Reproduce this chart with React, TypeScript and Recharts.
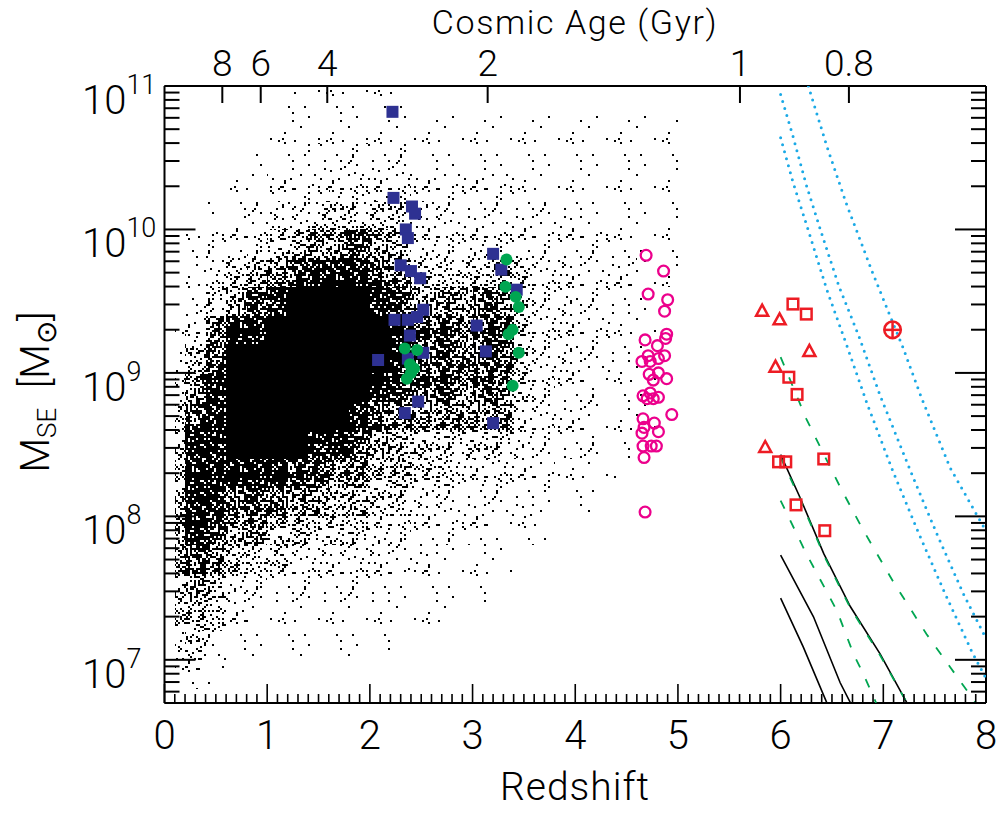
import React from 'react';
import { ComposedChart, Scatter, XAxis, YAxis, ReferenceArea } from 'recharts';

// ---------------- data (z = redshift, second value = log10 of M_SE in solar masses) ----------------
const blueSquares: [number, number][] = [
  [2.22, 10.82], [2.23, 10.22], [2.41, 10.16], [2.44, 10.11], [2.35, 10.0], [2.37, 9.94],
  [2.3, 9.75], [2.4, 9.71], [2.49, 9.66], [2.52, 9.44], [2.24, 9.37], [2.37, 9.37],
  [2.46, 9.39], [2.39, 9.26], [2.52, 9.14], [2.08, 9.09], [2.37, 9.1], [2.47, 8.8],
  [2.34, 8.72], [3.2, 9.83], [3.28, 9.72], [3.43, 9.58], [3.04, 9.33], [3.13, 9.15], [3.2, 8.65],
];
const greenCircles: [number, number][] = [
  [3.33, 9.79], [3.32, 9.6], [3.42, 9.53], [3.45, 9.46], [3.39, 9.3], [3.35, 9.27], [3.45, 9.14],
  [3.39, 8.91], [2.34, 9.17], [2.46, 9.16], [2.39, 9.06], [2.43, 9.03], [2.4, 9.0], [2.36, 8.96],
];
const magentaCircles: [number, number][] = [
  [4.69, 9.82], [4.86, 9.71], [4.71, 9.55], [4.9, 9.51], [4.87, 9.43], [4.89, 9.27], [4.88, 9.24],
  [4.68, 9.23], [4.8, 9.19], [4.87, 9.12], [4.71, 9.12], [4.65, 9.08], [4.81, 9.1], [4.73, 9.08],
  [4.72, 8.99], [4.81, 9.0], [4.89, 8.96], [4.76, 8.95], [4.66, 8.84], [4.73, 8.86], [4.81, 8.83],
  [4.7, 8.82], [4.76, 8.82], [4.94, 8.71], [4.66, 8.68], [4.77, 8.65], [4.67, 8.62], [4.81, 8.59],
  [4.65, 8.58], [4.66, 8.49], [4.79, 8.49], [4.74, 8.49], [4.67, 8.41], [4.68, 8.03],
];
const redTriangles: [number, number][] = [
  [5.82, 9.43], [5.99, 9.37], [6.28, 9.15], [5.95, 9.04], [5.85, 8.48],
];
const redSquares: [number, number][] = [
  [6.12, 9.48], [6.25, 9.41], [6.08, 8.97], [6.16, 8.85], [5.98, 8.38], [6.05, 8.38],
  [6.42, 8.4], [6.15, 8.08], [6.43, 7.9],
];
const redCirclePlus: [number, number][] = [[7.09, 9.3]];

const cyanLineA: [number, number][] = [
  [6.0, 10.64], [6.12, 10.33], [6.28, 9.97], [6.45, 9.58], [6.64, 9.2], [6.84, 8.79],
  [7.09, 8.32], [7.34, 7.89], [7.59, 7.48], [7.86, 7.06], [8.0, 6.87],
];
const cyanLineB: [number, number][] = [
  [6.0, 10.94], [6.12, 10.65], [6.25, 10.31], [6.4, 9.97], [6.57, 9.6], [6.76, 9.26],
  [6.97, 8.84], [7.28, 8.29], [7.52, 7.88], [7.78, 7.46], [8.0, 7.15],
];
const cyanLineC: [number, number][] = [
  [6.27, 11.0], [6.45, 10.58], [6.64, 10.18], [6.9, 9.69], [7.19, 9.18], [7.37, 8.83],
  [7.65, 8.34], [7.99, 7.91],
];
const greenLine1: [number, number][] = [
  [6.0, 9.11], [6.25, 8.68], [6.45, 8.39], [6.59, 8.19], [6.8, 7.91], [7.1, 7.54],
  [7.42, 7.18], [7.65, 6.95], [7.88, 6.72], [7.9, 6.7],
];
const greenLine2: [number, number][] = [
  [6.0, 8.11], [6.25, 7.74], [6.55, 7.34], [6.71, 7.04], [6.8, 6.91], [6.93, 6.7],
];
const greenLine3: [number, number][] = [
  [6.0, 8.41], [6.19, 8.12], [6.42, 7.73], [6.68, 7.36], [6.97, 7.03], [7.23, 6.7],
];
const blackLine1: [number, number][] = [
  [6.0, 8.43], [6.19, 8.13], [6.42, 7.74], [6.68, 7.37], [6.97, 7.04], [7.23, 6.7],
];
const blackLine2: [number, number][] = [[6.0, 7.73], [6.32, 7.3], [6.58, 6.84], [6.68, 6.7]];
const blackLine3: [number, number][] = [[6.0, 7.43], [6.22, 7.09], [6.45, 6.7]];

// density of the simulated population (0 = empty ... 9 = solid), rows from log M 11.0 downward
const cloudZEdges = [
  0.1, 0.2, 0.4, 0.6, 0.8, 1.0, 1.2, 1.4, 1.6, 1.8, 2.0, 2.2, 2.4, 2.6, 2.8, 3.0, 3.2, 3.4,
  3.6, 3.8, 4.0, 4.2, 4.4, 4.6, 4.8, 5.0,
];
const cloudLogMEdges = [
  11.0, 10.8, 10.6, 10.4, 10.2, 10.0, 9.8, 9.6, 9.4, 9.2, 9.0, 8.8, 8.6, 8.4, 8.2, 8.0, 7.8,
  7.6, 7.4, 7.2, 7.0, 6.8,
];
const cloudRows = [
  '0000001111110000000000000',
  '0000011111111111111111111',
  '0000111222221111111111111',
  '0001122233332222211111111',
  '0011233444443322222211111',
  '0122345667653333322222111',
  '0134567888764444543322211',
  '1246789999876667643322110',
  '1368899999987767743322110',
  '2579999999987777743322110',
  '3689999999877767643221110',
  '4789999998766666633221110',
  '5889999887655444432221100',
  '5888887766554433322111000',
  '6887776655443322221110000',
  '6876655444332222111000000',
  '6765443333322111100000000',
  '5653322222211111000000000',
  '5542111111111100000000000',
  '3421111111100000000000000',
  '1210000000000000000000000',
];

const xMajorTicks = [0, 1, 2, 3, 4, 5, 6, 7, 8];
const yMajorExponents = [7, 8, 9, 10, 11];
const ageTickZ = [0.563, 0.937, 1.585, 3.147, 5.604, 6.665];
const ageTickLabels = ['8', '6', '4', '2', '1', '0.8'];

// ---------------- helpers ----------------
const toPts = (arr: [number, number][]) => arr.map(([z, l]) => ({ x: z, y: Math.pow(10, l) }));

const xAllTicks: number[] = [];
for (let k = 0; k <= 80; k++) xAllTicks.push(k / 10);
const yAllTicks: number[] = [];
for (let e = 6; e <= 10; e++) {
  for (let m = 1; m <= 9; m++) {
    const v = m * Math.pow(10, e);
    if (v >= 5e6 && v <= 1e11) yAllTicks.push(v);
  }
}
yAllTicks.push(1e11);

type Cell = { x1: number; x2: number; y1: number; y2: number; lvl: number };
const cloudCells: Cell[] = [];
cloudRows.forEach((row, i) => {
  for (let j = 0; j < row.length; j++) {
    const lvl = Number(row[j]);
    if (!lvl) continue;
    cloudCells.push({
      x1: cloudZEdges[j],
      x2: cloudZEdges[j + 1],
      y1: Math.pow(10, cloudLogMEdges[i + 1]),
      y2: Math.pow(10, cloudLogMEdges[i]),
      lvl,
    });
  }
});

// stipple texture (styling only)
const STIPPLE_FRAC = [0, 0.01, 0.05, 0.1, 0.18, 0.28, 0.42, 0.6, 0.82, 1];
const TILE = 48;
const DOT = 2;
function tex(i: number, j: number) {
  let h = (Math.imul(i + 1, 374761393) + Math.imul(j + 7, 668265263)) | 0;
  h = Math.imul(h ^ (h >>> 13), 1274126177);
  h ^= h >>> 16;
  return (h >>> 0) / 4294967296;
}
function dotsPath(f: number) {
  let d = '';
  const n = TILE / DOT;
  for (let i = 0; i < n; i++) {
    for (let j = 0; j < n; j++) {
      if (tex(i, j) < f) d += `M${i * DOT} ${j * DOT}h${DOT}v${DOT}h-${DOT}z`;
    }
  }
  return d;
}

const FONT = "Roboto, 'Liberation Sans', 'DejaVu Sans', sans-serif";
const FW = 300;
const FS = 40;

const Patterns = () => (
  <svg width={0} height={0} style={{ position: 'absolute' }}>
    <defs>
      {STIPPLE_FRAC.map((f, lvl) =>
        lvl === 0 ? null : (
          <pattern key={lvl} id={`stip${lvl}`} patternUnits="userSpaceOnUse" width={TILE} height={TILE}>
            {lvl === 9 ? <rect width={TILE} height={TILE} fill="#000" /> : <path d={dotsPath(f)} fill="#000" />}
          </pattern>
        )
      )}
    </defs>
  </svg>
);

// ---------------- ticks ----------------
const BottomTick = (p: any) => {
  const { x, y, payload } = p;
  const v = payload.value as number;
  const major = xMajorTicks.some((t) => Math.abs(t - v) < 1e-6);
  return (
    <g>
      <line x1={x} x2={x} y1={y} y2={y - (major ? 19 : 9)} stroke="#000" strokeWidth={1.6} />
      {major && (
        <text x={x} y={y + 46} textAnchor="middle" fontSize={FS} fontFamily={FONT} fontWeight={FW} fill="#000">
          {Math.round(v)}
        </text>
      )}
    </g>
  );
};
const TopTick = (p: any) => {
  const { x, y, payload } = p;
  const idx = ageTickZ.findIndex((t) => Math.abs(t - payload.value) < 1e-6);
  return (
    <g>
      <line x1={x} x2={x} y1={y} y2={y + 17} stroke="#000" strokeWidth={2} />
      <text x={x} y={y - 10} textAnchor="middle" fontSize={37} fontFamily={FONT} fontWeight={FW} fill="#000">
        {ageTickLabels[idx]}
      </text>
    </g>
  );
};
const isMajorY = (v: number) => yMajorExponents.some((e) => Math.abs(Math.log10(v) - e) < 1e-9);
const LeftTick = (p: any) => {
  const { x, y, payload } = p;
  const v = payload.value as number;
  const major = isMajorY(v);
  return (
    <g>
      <line x1={x} x2={x + (major ? 31 : 15)} y1={y} y2={y} stroke="#000" strokeWidth={2} />
      {major && (
        <text x={x - 82.5} y={y + 28} fontSize={FS} fontFamily={FONT} fontWeight={FW} fill="#000">
          <tspan>10</tspan>
          <tspan dy={-20} fontSize={27}>
            {Math.round(Math.log10(v))}
          </tspan>
        </text>
      )}
    </g>
  );
};
const RightTick = (p: any) => {
  const { x, y, payload } = p;
  const major = isMajorY(payload.value);
  return <line x1={x} x2={x - (major ? 31 : 15)} y1={y} y2={y} stroke="#000" strokeWidth={2} />;
};

// ---------------- marker shapes ----------------
const NAVY = '#2e3192';
const GREEN = '#00a651';
const MAGENTA = '#ec008c';
const RED = '#ed1c24';
const CYAN = '#1aa9e6';

const FilledSquare = (p: any) => <rect x={p.cx - 6} y={p.cy - 6} width={12} height={12} fill={NAVY} />;
const FilledCircle = (p: any) => <circle cx={p.cx} cy={p.cy} r={6} fill={GREEN} />;
const OpenCircle = (p: any) => (
  <circle cx={p.cx} cy={p.cy} r={5.4} fill="none" stroke={MAGENTA} strokeWidth={2.3} />
);
const OpenSquare = (p: any) => (
  <rect x={p.cx - 5.3} y={p.cy - 5.3} width={10.6} height={10.6} fill="none" stroke={RED} strokeWidth={2.5} />
);
const OpenTriangle = (p: any) => (
  <path
    d={`M${p.cx},${p.cy - 6.5} L${p.cx + 6},${p.cy + 4.5} L${p.cx - 6},${p.cy + 4.5} Z`}
    fill="none"
    stroke={RED}
    strokeWidth={2.5}
    strokeLinejoin="miter"
  />
);
const CirclePlus = (p: any) => (
  <g fill="none" stroke={RED} strokeWidth={2.5}>
    <circle cx={p.cx} cy={p.cy} r={8.3} />
    <line x1={p.cx - 8.3} x2={p.cx + 8.3} y1={p.cy} y2={p.cy} />
    <line x1={p.cx} x2={p.cx} y1={p.cy - 8.3} y2={p.cy + 8.3} />
  </g>
);
const NoShape = () => <g />;

const lineSeries = [
  { key: 'b3', data: blackLine3, style: { stroke: '#000', strokeWidth: 1.6 } },
  { key: 'b2', data: blackLine2, style: { stroke: '#000', strokeWidth: 1.6 } },
  { key: 'b1', data: blackLine1, style: { stroke: '#000', strokeWidth: 1.6 } },
  { key: 'g3', data: greenLine3, style: { stroke: GREEN, strokeWidth: 1.8, strokeDasharray: '9 13' } },
  { key: 'g2', data: greenLine2, style: { stroke: GREEN, strokeWidth: 1.8, strokeDasharray: '9 13' } },
  { key: 'g1', data: greenLine1, style: { stroke: GREEN, strokeWidth: 1.8, strokeDasharray: '9 13' } },
  { key: 'cA', data: cyanLineA, style: { stroke: CYAN, strokeWidth: 3, strokeDasharray: '0 7.3', strokeLinecap: 'round' } },
  { key: 'cB', data: cyanLineB, style: { stroke: CYAN, strokeWidth: 3, strokeDasharray: '0 7.3', strokeLinecap: 'round' } },
  { key: 'cC', data: cyanLineC, style: { stroke: CYAN, strokeWidth: 3, strokeDasharray: '0 7.3', strokeLinecap: 'round' } },
];

export default function App() {
  const textStyle = { fontFamily: FONT, fontWeight: FW, fill: '#000' } as any;
  return (
    <div style={{ position: 'absolute', left: 0, top: 0, width: 997, height: 814, background: '#fff' }}>
      <Patterns />
      <ComposedChart width={997} height={814} margin={{ top: 0, right: 0, bottom: 0, left: 0 }}>
        <XAxis
          dataKey="x"
          type="number"
          domain={[0, 8]}
          ticks={xAllTicks}
          interval={0}
          allowDataOverflow
          tickSize={0}
          tickMargin={0}
          height={111}
          axisLine={{ stroke: '#000', strokeWidth: 2 }}
          tick={<BottomTick />}
        />
        <XAxis
          xAxisId="top"
          orientation="top"
          dataKey="x"
          type="number"
          domain={[0, 8]}
          ticks={ageTickZ}
          interval={0}
          allowDataOverflow
          tickSize={0}
          tickMargin={0}
          height={86}
          axisLine={{ stroke: '#000', strokeWidth: 2 }}
          tick={<TopTick />}
        />
        <YAxis
          dataKey="y"
          type="number"
          scale="log"
          domain={[5e6, 1e11]}
          ticks={yAllTicks}
          interval={0}
          allowDataOverflow
          tickSize={0}
          tickMargin={0}
          width={164.5}
          axisLine={{ stroke: '#000', strokeWidth: 2 }}
          tick={<LeftTick />}
        />
        <YAxis
          yAxisId="r"
          orientation="right"
          dataKey="y"
          type="number"
          scale="log"
          domain={[5e6, 1e11]}
          ticks={yAllTicks}
          interval={0}
          allowDataOverflow
          tickSize={0}
          tickMargin={0}
          width={11}
          axisLine={{ stroke: '#000', strokeWidth: 2 }}
          tick={<RightTick />}
        />
        {cloudCells.map((c, k) => (
          <ReferenceArea
            key={`c${k}`}
            x1={c.x1}
            x2={c.x2}
            y1={c.y1}
            y2={c.y2}
            fill={`url(#stip${c.lvl})`}
            fillOpacity={1}
            stroke="none"
            ifOverflow="hidden"
            shapeRendering="crispEdges"
          />
        ))}
        {lineSeries.map((s) => (
          <Scatter
            key={s.key}
            data={toPts(s.data)}
            line={{ ...s.style, fill: 'none' } as any}
            lineType="joint"
            shape={NoShape}
            isAnimationActive={false}
          />
        ))}
        <Scatter data={toPts(blueSquares)} shape={FilledSquare} isAnimationActive={false} />
        <Scatter data={toPts(greenCircles)} shape={FilledCircle} isAnimationActive={false} />
        <Scatter data={toPts(magentaCircles)} shape={OpenCircle} isAnimationActive={false} />
        <Scatter data={toPts(redSquares)} shape={OpenSquare} isAnimationActive={false} />
        <Scatter
          data={toPts(redTriangles)}
          xAxisId="top"
          yAxisId="r"
          shape={OpenTriangle}
          isAnimationActive={false}
        />
        <Scatter data={toPts(redCirclePlus)} shape={CirclePlus} isAnimationActive={false} />
      </ComposedChart>
      <svg width={997} height={814} style={{ position: 'absolute', left: 0, top: 0, pointerEvents: 'none' }}>
        <text x={575} y={33.5} textAnchor="middle" fontSize={34} letterSpacing={1.6} {...textStyle}>
          Cosmic Age (Gyr)
        </text>
        <text x={575} y={800} textAnchor="middle" fontSize={39} letterSpacing={1} {...textStyle}>
          Redshift
        </text>
        <text transform="translate(49,392) rotate(-90)" textAnchor="middle" fontSize={FS} {...textStyle}>
          <tspan>M</tspan>
          <tspan fontSize={26} dy={7}>
            SE
          </tspan>
          <tspan dy={-7}>{'\u00a0\u00a0[M'}</tspan>
          <tspan fontSize={28} dy={7}>
            {'\u2299'}
          </tspan>
          <tspan dy={-7}>]</tspan>
        </text>
      </svg>
    </div>
  );
}
